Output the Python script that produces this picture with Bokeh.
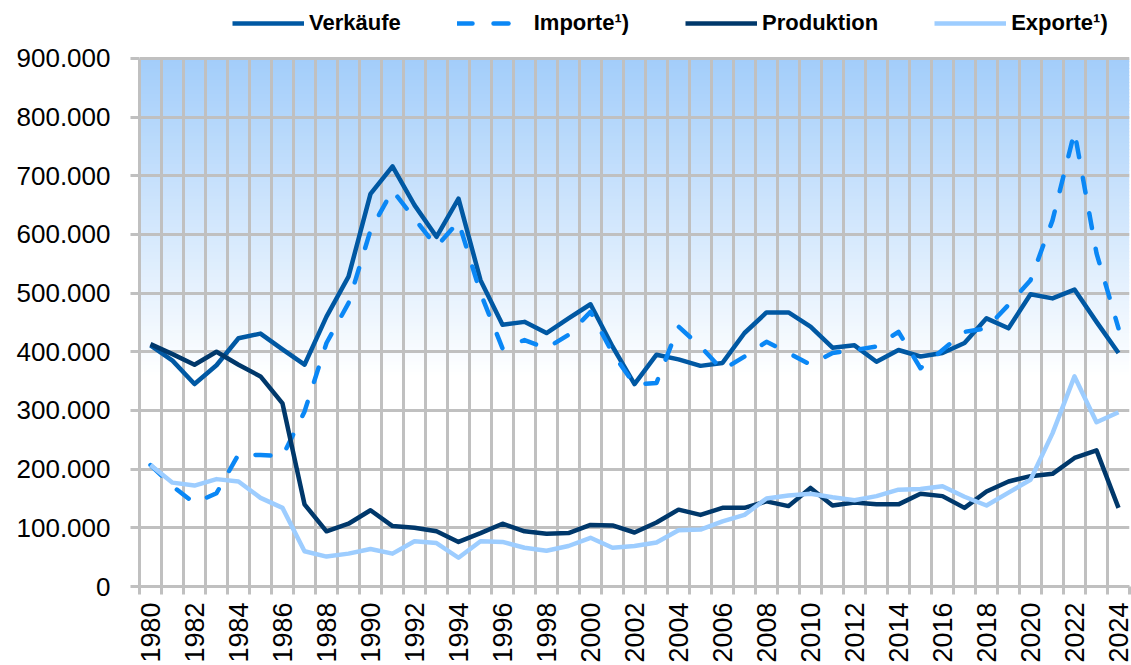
import numpy as np
from bokeh.plotting import figure
from bokeh.models import FixedTicker, Legend, LegendItem, Range1d
from bokeh.embed import file_html
from bokeh.resources import INLINE

years = list(range(1980, 2025))
verkaeufe = [411000, 385000, 345000, 377000, 423000, 431000, 404000, 378000, 460000, 528000,
             669000, 716000, 650000, 596000, 661000, 522000, 446000, 451000, 432000, 457000,
             481000, 409000, 345000, 395000, 387000, 376000, 381000, 432000, 467000, 467000,
             443000, 407000, 411000, 383000, 403000, 392000, 398000, 415000, 457000, 440000,
             498000, 491000, 506000, 451000, 398000]
importe = [207000, 171000, 142000, 159000, 225000, 224000, 222000, 298000, 415000, 483000,
           607000, 675000, 627000, 579000, 622000, 500000, 406000, 420000, 406000, 429000,
           468000, 398000, 344000, 347000, 443000, 409000, 369000, 392000, 417000, 398000,
           378000, 398000, 403000, 409000, 434000, 372000, 403000, 434000, 440000, 480000,
           522000, 624000, 775000, 568000, 440000]
produktion = [413000, 396000, 378000, 400000, 378000, 358000, 312000, 140000, 94000, 107000,
              130000, 103000, 100000, 94000, 76000, 91000, 107000, 94000, 90000, 91000,
              105000, 104000, 92000, 109000, 131000, 122000, 134000, 134000, 145000, 137000,
              168000, 138000, 143000, 140000, 140000, 158000, 154000, 134000, 162000, 179000,
              188000, 192000, 219000, 232000, 134000]
exporte = [207000, 177000, 172000, 183000, 179000, 151000, 134000, 60000, 51000, 56000,
           64000, 56000, 77000, 74000, 49000, 77000, 76000, 66000, 61000, 69000,
           83000, 66000, 69000, 75000, 96000, 97000, 111000, 122000, 150000, 155000,
           158000, 152000, 147000, 154000, 165000, 166000, 171000, 153000, 138000, 160000,
           182000, 261000, 358000, 280000, 297000]
series_labels = ["Verkäufe", "Importe¹)", "Produktion", "Exporte¹)"]
y_ticks = [0, 100000, 200000, 300000, 400000, 500000, 600000, 700000, 800000, 900000]
y_tick_labels = ["0", "100.000", "200.000", "300.000", "400.000", "500.000",
                 "600.000", "700.000", "800.000", "900.000"]
x_ticks = years[::2]
x_tick_labels = [str(y) for y in x_ticks]

W, H = 1131, 665
LEFT, BOTTOM, TOP_PAD = 139, 78, 58   # pixel layout
x0, x1 = years[0] - 0.5, years[-1] + 0.5
y0, y1 = y_ticks[0], y_ticks[-1]
frame_h = H - BOTTOM
y_top = y1 * frame_h / (frame_h - TOP_PAD)  # leave room above the data area for the legend
boundaries = [y - 0.5 for y in years] + [x1]

p = figure(width=W, height=H, output_backend="svg", toolbar_location=None,
           x_range=Range1d(x0, x1), y_range=Range1d(y0, y_top),
           min_border_left=LEFT, min_border_right=2, min_border_top=0, min_border_bottom=BOTTOM)
p.outline_line_color = None
p.background_fill_color = "white"
p.border_fill_color = "white"

# background gradient (light blue at top fading to white)
n = 90
g_lo = 0.40 * y1
edges = np.linspace(g_lo, y1, n + 1)
top_rgb = np.array([162, 205, 250])
white = np.array([255, 255, 255])
cols = []
for i in range(n):
    t = (i + 0.5) / n
    c = white + (top_rgb - white) * t
    cols.append("#%02x%02x%02x" % tuple(int(round(v)) for v in c))
step = edges[1] - edges[0]
tops = np.minimum(edges[:-1] + step * 1.3, y1)
p.quad(left=x0, right=x1, bottom=edges[:-1], top=tops,
       fill_color=cols, line_color=None, level="image")

grid_col = "#c0c0c0"
p.xgrid.ticker = FixedTicker(ticks=boundaries)
p.xgrid.grid_line_color = grid_col
p.xgrid.grid_line_width = 3
p.xgrid.cross_bounds = (y0, y1)
p.ygrid.ticker = FixedTicker(ticks=y_ticks)
p.ygrid.grid_line_color = grid_col
p.ygrid.grid_line_width = 3

r1 = p.line(years, verkaeufe, line_width=4.5, line_color="#0058a3", line_join="round")
r2 = p.line(years, importe, line_width=4.5, line_color="#0a87f5", line_dash="15 21",
            line_cap="round", line_join="round")
r3 = p.line(years, produktion, line_width=4.5, line_color="#00386b", line_join="round")
r4 = p.line(years, exporte, line_width=4.5, line_color="#9dcdff", line_join="round")

ya = p.yaxis[0]
ya.bounds = (y0, y1)
ya.ticker = FixedTicker(ticks=y_ticks)
ya.major_label_overrides = dict(zip(y_ticks, y_tick_labels))
ya.major_label_text_font = "Liberation Sans"
ya.major_label_text_font_size = "26px"
ya.major_label_text_color = "black"
ya.major_tick_out = 9
ya.major_tick_in = 0
ya.major_tick_line_color = grid_col
ya.major_tick_line_width = 3
ya.minor_tick_line_color = None
ya.axis_line_color = grid_col
ya.axis_line_width = 3
ya.major_label_standoff = 20

xa = p.xaxis[0]
xa.ticker = FixedTicker(ticks=x_ticks, minor_ticks=boundaries)
xa.major_label_overrides = dict(zip(x_ticks, x_tick_labels))
xa.major_label_orientation = np.pi / 2
xa.major_label_text_font = "Liberation Sans"
xa.major_label_text_font_size = "27px"
xa.major_label_text_color = "black"
xa.major_tick_line_color = None
xa.minor_tick_out = 8
xa.minor_tick_in = 0
xa.minor_tick_line_color = grid_col
xa.minor_tick_line_width = 3
xa.axis_line_color = grid_col
xa.axis_line_width = 3
xa.major_label_standoff = 8

legend = Legend(items=[LegendItem(label=series_labels[0], renderers=[r1]),
                       LegendItem(label=series_labels[1], renderers=[r2]),
                       LegendItem(label=series_labels[2], renderers=[r3]),
                       LegendItem(label=series_labels[3], renderers=[r4])],
                orientation="horizontal", location=(93, frame_h - 37),
                glyph_width=72, glyph_height=20, label_height=20, label_standoff=5,
                spacing=56, padding=0, margin=0,
                border_line_color=None, background_fill_alpha=0,
                label_text_font="Liberation Sans", label_text_font_style="bold",
                label_text_font_size="22px", label_text_color="black")
p.add_layout(legend)

open("out.html", "w").write(file_html(p, INLINE))
